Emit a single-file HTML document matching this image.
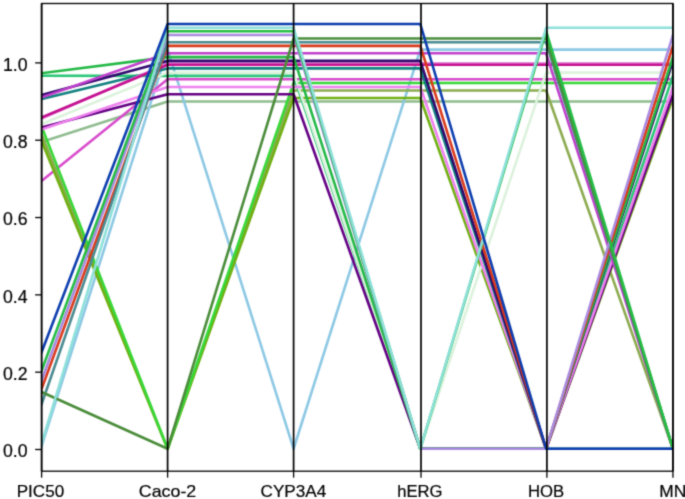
<!DOCTYPE html>
<html><head><meta charset="utf-8"><style>
html,body{margin:0;padding:0;background:#fff;}
body{width:685px;height:499px;overflow:hidden;}
svg{display:block;}
text{font-family:"Liberation Sans",sans-serif;font-size:17px;fill:#000;stroke:#000;stroke-width:0.2;}
</style></head><body>
<svg width="685" height="499" viewBox="0 0 685 499">
<defs><filter id="sf" x="0" y="0" width="685" height="499" filterUnits="userSpaceOnUse" color-interpolation-filters="sRGB"><feConvolveMatrix order="3" kernelMatrix="1 4 1 4 16 4 1 4 1" edgeMode="duplicate" preserveAlpha="true"/></filter><clipPath id="c"><rect x="41.60" y="3.50" width="631.35" height="467.70"/></clipPath></defs>
<g filter="url(#sf)">
<rect width="685" height="499" fill="#fff"/>
<g clip-path="url(#c)" fill="none" stroke-width="2.60" stroke-linejoin="round" stroke-linecap="square">
<polyline points="41.60,142.00 167.60,101.50 293.60,101.50 420.30,101.50 546.10,101.50 672.95,101.50" stroke="#8fbc8f"/>
<polyline points="41.60,446.00 167.60,49.60 293.60,448.75 420.30,49.60 546.10,49.60 672.95,49.60" stroke="#8cc8e4"/>
<polyline points="41.60,181.00 167.60,79.20 293.60,79.20 420.30,79.20 546.10,79.20 672.95,79.20" stroke="#d84ccc"/>
<polyline points="41.60,134.50 167.60,448.75 293.60,90.50 420.30,90.50 546.10,90.50 672.95,448.75" stroke="#8cab50"/>
<polyline points="41.60,141.00 167.60,448.75 293.60,98.00 420.30,98.00 546.10,448.75 672.95,98.00" stroke="#70b012"/>
<polyline points="41.60,126.50 167.60,448.75 293.60,83.00 420.30,83.00 546.10,83.00 672.95,83.00" stroke="#38d838"/>
<polyline points="41.60,75.80 167.60,75.90 293.60,75.90 420.30,448.75 546.10,448.75 672.95,75.90" stroke="#2ac677"/>
<polyline points="41.60,124.00 167.60,72.60 293.60,72.60 420.30,448.75 546.10,72.60 672.95,72.60" stroke="#dcf2dc"/>
<polyline points="41.60,127.40 167.60,94.30 293.60,94.30 420.30,448.75 546.10,448.75 672.95,94.30" stroke="#640084"/>
<polyline points="41.60,129.50 167.60,87.00 293.60,87.00 420.30,87.00 546.10,448.75 672.95,87.00" stroke="#ee82ee"/>
<polyline points="41.60,98.90 167.60,68.40 293.60,68.40 420.30,68.40 546.10,448.75 672.95,448.75" stroke="#138080"/>
<polyline points="41.60,118.50 167.60,63.40 293.60,63.40 420.30,63.40 546.10,63.40 672.95,63.40" stroke="#e690da"/>
<polyline points="41.60,117.50 167.60,64.70 293.60,64.70 420.30,64.70 546.10,64.70 672.95,64.70" stroke="#c41090"/>
<polyline points="41.60,95.00 167.60,60.90 293.60,60.90 420.30,60.90 546.10,448.75 672.95,60.90" stroke="#30086e"/>
<polyline points="41.60,73.20 167.60,57.10 293.60,57.10 420.30,448.75 546.10,448.75 672.95,57.10" stroke="#22b845"/>
<polyline points="41.60,97.40 167.60,53.30 293.60,53.30 420.30,53.30 546.10,53.30 672.95,448.75" stroke="#c040cc"/>
<polyline points="41.60,388.90 167.60,45.90 293.60,45.90 420.30,45.90 546.10,448.75 672.95,45.90" stroke="#d93a1c"/>
<polyline points="41.60,404.00 167.60,42.30 293.60,42.30 420.30,42.30 546.10,42.30 672.95,448.75" stroke="#4a8b92"/>
<polyline points="41.60,392.00 167.60,448.75 293.60,38.50 420.30,38.50 546.10,38.50 672.95,448.75" stroke="#4a8c3a"/>
<polyline points="41.60,380.50 167.60,35.00 293.60,35.00 420.30,448.75 546.10,448.75 672.95,35.00" stroke="#a98be0"/>
<polyline points="41.60,370.70 167.60,31.20 293.60,31.20 420.30,448.75 546.10,31.20 672.95,448.75" stroke="#25bd45"/>
<polyline points="41.60,443.50 167.60,27.80 293.60,27.80 420.30,448.75 546.10,27.80 672.95,27.80" stroke="#8ee0da"/>
<polyline points="41.60,352.10 167.60,24.00 293.60,24.00 420.30,24.00 546.10,448.75 672.95,448.75" stroke="#0c3dae"/>
</g>
<g stroke="#000" stroke-width="1.7">
<line x1="41.60" y1="3.50" x2="41.60" y2="471.20"/>
<line x1="167.60" y1="3.50" x2="167.60" y2="471.20"/>
<line x1="293.60" y1="3.50" x2="293.60" y2="471.20"/>
<line x1="421.00" y1="3.50" x2="421.00" y2="471.20"/>
<line x1="546.90" y1="3.50" x2="546.90" y2="471.20"/>
<line x1="672.95" y1="3.50" x2="672.95" y2="471.20"/>
</g>
<g stroke="#000" stroke-width="1.3" fill="none">
<rect x="41.60" y="3.50" width="631.35" height="467.70"/>
<line x1="35.15" y1="449.50" x2="41.60" y2="449.50"/>
<line x1="35.15" y1="372.18" x2="41.60" y2="372.18"/>
<line x1="35.15" y1="294.86" x2="41.60" y2="294.86"/>
<line x1="35.15" y1="217.54" x2="41.60" y2="217.54"/>
<line x1="35.15" y1="140.22" x2="41.60" y2="140.22"/>
<line x1="35.15" y1="62.90" x2="41.60" y2="62.90"/>
<line x1="41.60" y1="471.20" x2="41.60" y2="477.65"/>
<line x1="167.60" y1="471.20" x2="167.60" y2="477.65"/>
<line x1="293.60" y1="471.20" x2="293.60" y2="477.65"/>
<line x1="421.00" y1="471.20" x2="421.00" y2="477.65"/>
<line x1="546.90" y1="471.20" x2="546.90" y2="477.65"/>
<line x1="672.95" y1="471.20" x2="672.95" y2="477.65"/>
</g>
<g style="will-change:transform">
<text x="27.60" y="457.20" style="font-size:17.5px" text-anchor="end" textLength="24.60" lengthAdjust="spacingAndGlyphs">0.0</text>
<text x="27.60" y="379.88" style="font-size:17.5px" text-anchor="end" textLength="24.60" lengthAdjust="spacingAndGlyphs">0.2</text>
<text x="27.60" y="302.56" style="font-size:17.5px" text-anchor="end" textLength="24.60" lengthAdjust="spacingAndGlyphs">0.4</text>
<text x="27.60" y="225.24" style="font-size:17.5px" text-anchor="end" textLength="24.60" lengthAdjust="spacingAndGlyphs">0.6</text>
<text x="27.60" y="147.92" style="font-size:17.5px" text-anchor="end" textLength="24.60" lengthAdjust="spacingAndGlyphs">0.8</text>
<text x="27.60" y="70.60" style="font-size:17.5px" text-anchor="end" textLength="24.60" lengthAdjust="spacingAndGlyphs">1.0</text>
<text x="40.40" y="496.80" text-anchor="middle" textLength="47.50" lengthAdjust="spacingAndGlyphs">PIC50</text>
<text x="167.50" y="496.80" text-anchor="middle" textLength="57.50" lengthAdjust="spacingAndGlyphs">Caco-2</text>
<text x="293.40" y="496.80" text-anchor="middle" textLength="65.80" lengthAdjust="spacingAndGlyphs">CYP3A4</text>
<text x="419.80" y="496.80" text-anchor="middle" textLength="45.30" lengthAdjust="spacingAndGlyphs">hERG</text>
<text x="546.00" y="496.80" text-anchor="middle" textLength="36.20" lengthAdjust="spacingAndGlyphs">HOB</text>
<text x="672.80" y="496.80" text-anchor="middle" textLength="27.00" lengthAdjust="spacingAndGlyphs">MN</text>
</g>
</g>
</svg>
</body></html>
